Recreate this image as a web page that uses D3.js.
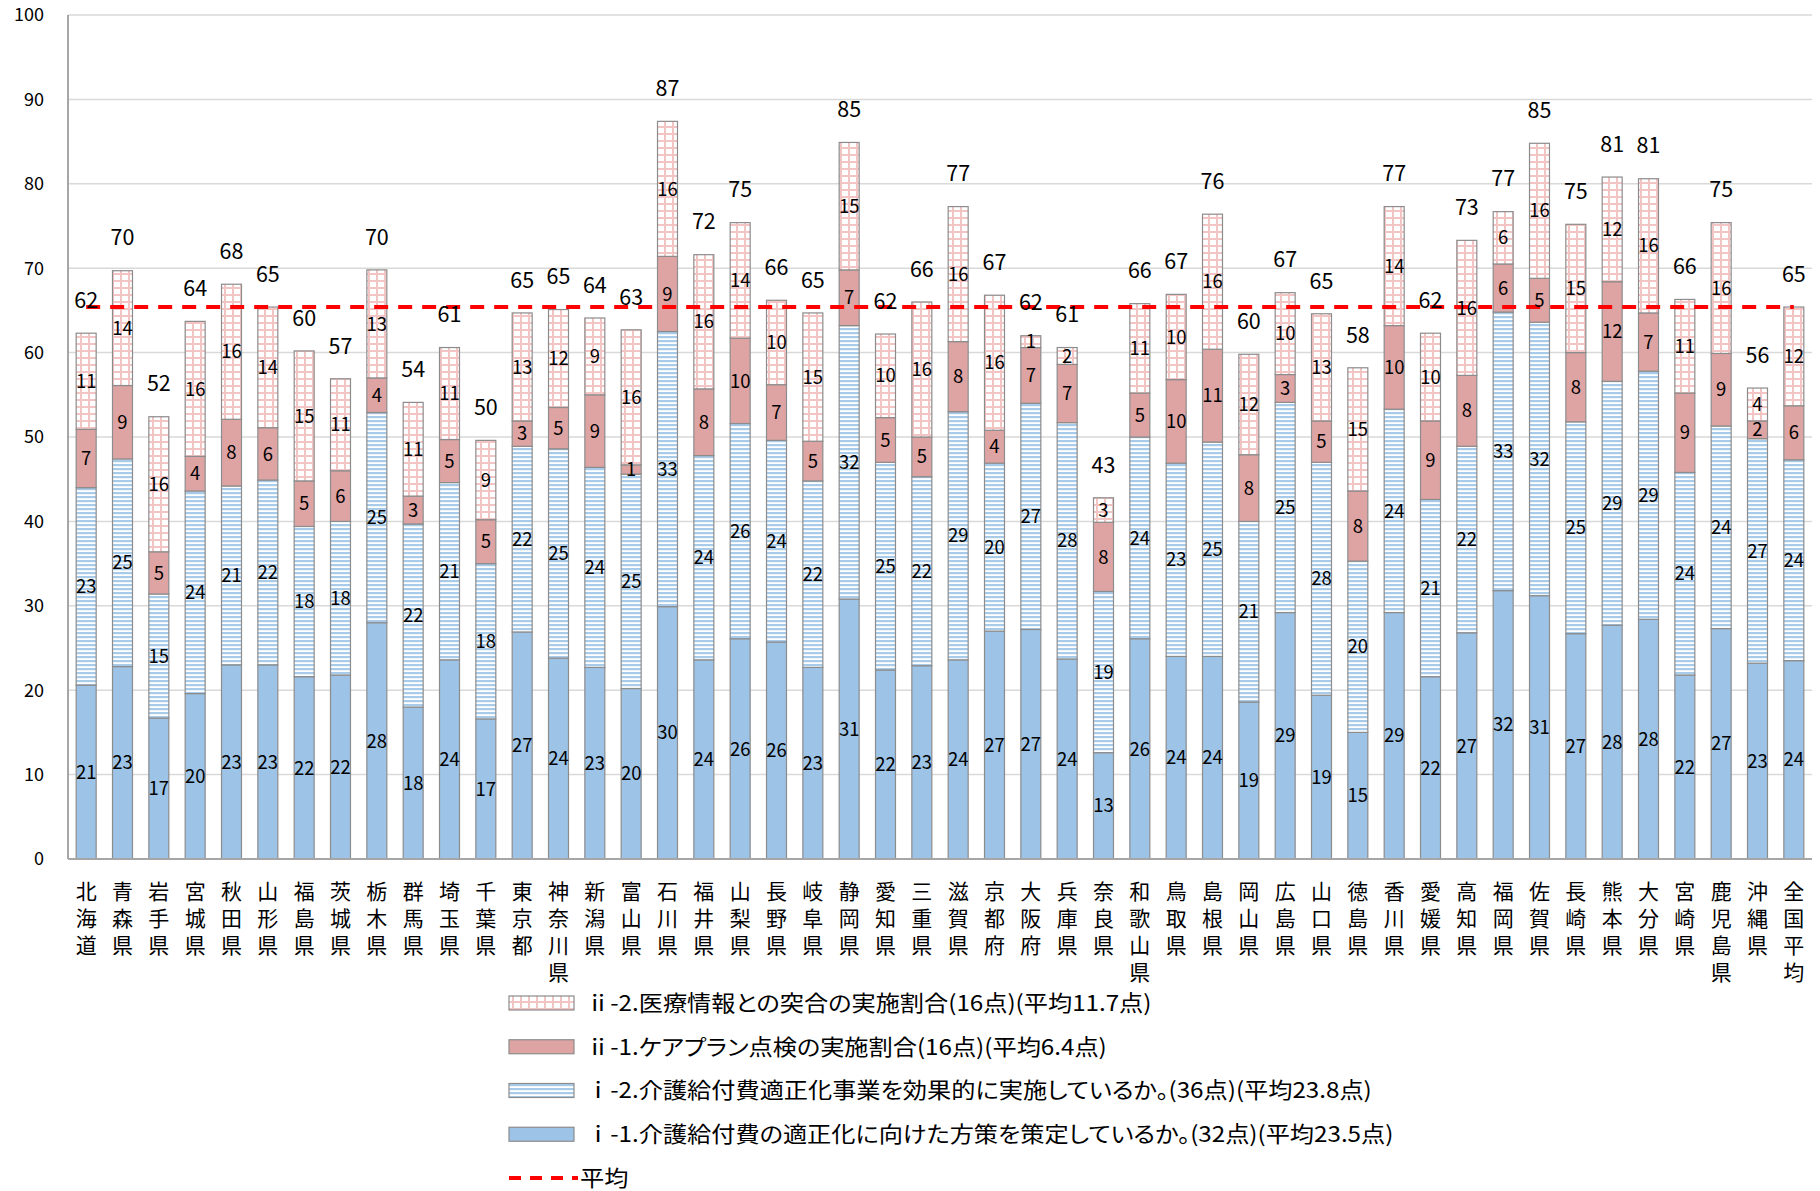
<!DOCTYPE html>
<html>
<head>
<meta charset="utf-8">
<script src="https://cdn.jsdelivr.net/npm/d3@7"></script>
<style>
  body { margin: 0; background: #fff; }
  text { font-family: "Noto Sans CJK JP", "Noto Sans", sans-serif; fill: #000; }
  .legend text { font-feature-settings: "palt"; }
</style>
</head>
<body>
<div class="chart"></div>
<script>
// 都道府県
const prefs = ["北海道","青森県","岩手県","宮城県","秋田県","山形県","福島県","茨城県","栃木県","群馬県","埼玉県","千葉県","東京都","神奈川県","新潟県","富山県","石川県","福井県","山梨県","長野県","岐阜県","静岡県","愛知県","三重県","滋賀県","京都府","大阪府","兵庫県","奈良県","和歌山県","鳥取県","島根県","岡山県","広島県","山口県","徳島県","香川県","愛媛県","高知県","福岡県","佐賀県","長崎県","熊本県","大分県","宮崎県","鹿児島県","沖縄県","全国平均"];

// ⅰ-1 介護給付費の適正化に向けた方策
const i1 = [20.6,22.8,16.7,19.6,23.0,23.0,21.6,21.8,28.0,18.0,23.6,16.6,26.9,23.8,22.7,20.2,29.9,23.6,26.1,25.7,22.7,30.8,22.4,22.9,23.6,27.0,27.2,23.7,12.6,26.1,24.0,24.0,18.6,29.2,19.4,15.0,29.2,21.6,26.8,31.8,31.2,26.7,27.7,28.4,21.8,27.3,23.2,23.5];
// ⅰ-2 適正化事業を効果的に実施
const i2 = [23.4,24.6,14.7,24.0,21.2,21.9,17.8,18.2,24.9,21.7,21.0,18.4,22.0,24.8,23.7,25.4,32.6,24.2,25.5,23.9,22.1,32.4,24.6,22.4,29.4,19.9,26.8,28.0,19.1,23.9,22.9,25.4,21.4,24.9,27.6,20.3,24.1,21.0,22.1,33.0,32.4,25.1,28.9,29.4,24.0,24.0,26.6,23.8];
// ⅱ-1 ケアプラン点検
const ii1 = [6.9,8.7,5.0,4.1,7.9,6.2,5.4,6.0,4.1,3.3,5.1,5.2,3.0,4.9,8.6,1.1,8.9,7.9,10.1,6.6,4.7,6.6,5.3,4.7,8.3,3.9,6.6,6.9,8.2,5.2,9.9,11.0,7.9,3.3,4.9,8.3,9.9,9.3,8.4,5.7,5.2,8.2,11.8,6.9,9.4,8.6,2.1,6.4];
// ⅱ-2 医療情報との突合
const ii2 = [11.4,13.6,16.0,16.0,16.0,14.3,15.4,10.9,12.8,11.1,10.9,9.4,12.8,11.6,9.1,16.0,16.0,15.9,13.7,10.0,15.2,15.1,9.9,16.0,16.0,16.0,1.4,2.0,2.9,10.6,10.1,16.0,11.9,9.7,12.7,14.6,14.1,10.4,16.0,6.2,16.0,15.2,12.4,15.9,11.1,15.5,3.9,11.7];

const average = 65.4;
const yTicks = [0,10,20,30,40,50,60,70,80,90,100];

const seriesKeys = ["i1","i2","ii1","ii2"];
const seriesNames = {
  ii2: "ⅱ-2.医療情報との突合の実施割合(16点)(平均11.7点)",
  ii1: "ⅱ-1.ケアプラン点検の実施割合(16点)(平均6.4点)",
  i2: "ⅰ-2.介護給付費適正化事業を効果的に実施しているか。(36点)(平均23.8点)",
  i1: "ⅰ-1.介護給付費の適正化に向けた方策を策定しているか。(32点)(平均23.5点)"
};

let width = 1820,
    height = 1191;

const rows = prefs.map((p, i) => ({pref: p, i1: i1[i], i2: i2[i], ii1: ii1[i], ii2: ii2[i]}));
const stacked = d3.stack().keys(seriesKeys)(rows);

const svg = d3.select(".chart").append("svg")
  .attr("width", width).attr("height", height);

// patterns
const defs = svg.append("defs");
const stripe = defs.append("pattern").attr("id", "stripe")
  .attr("patternUnits", "userSpaceOnUse").attr("width", 8).attr("height", 4);
stripe.append("rect").attr("width", 8).attr("height", 4).attr("fill", "#fff");
stripe.append("rect").attr("width", 8).attr("height", 2.2).attr("fill", "#a9cbea");

const grid = defs.append("pattern").attr("id", "grid")
  .attr("patternUnits", "userSpaceOnUse").attr("width", 8).attr("height", 7);
grid.append("rect").attr("width", 8).attr("height", 7).attr("fill", "#fff");
grid.append("rect").attr("width", 2).attr("height", 7).attr("fill", "#f2c4c4");
grid.append("rect").attr("width", 8).attr("height", 2).attr("fill", "#f2c4c4");

const fills = {i1: "#9dc3e6", i2: "url(#stripe)", ii1: "#dea4a4", ii2: "url(#grid)"};

const x = d3.scaleBand().domain(prefs).range([68, 1812]).paddingInner(0.45).paddingOuter(0.225);
const y = d3.scaleLinear().domain([0, 100]).range([859, 15]);

// gridlines
svg.append("g").selectAll("line")
  .data(yTicks.filter(d => d > 0))
  .join("line")
  .attr("x1", 68).attr("x2", 1812)
  .attr("y1", d => y(d)).attr("y2", d => y(d))
  .attr("stroke", "#d9d9d9").attr("stroke-width", 1.5);

// tick labels
svg.append("g").selectAll("text")
  .data(yTicks)
  .join("text")
  .attr("x", 44).attr("y", d => y(d))
  .attr("dy", "0.35em")
  .attr("text-anchor", "end")
  .attr("font-size", 18)
  .text(d => d);

// bars
svg.append("g").selectAll("g")
  .data(stacked)
  .join("g")
  .attr("fill", s => fills[s.key])
  .selectAll("rect")
  .data(s => s)
  .join("rect")
  .attr("x", d => x(d.data.pref))
  .attr("width", x.bandwidth())
  .attr("y", d => y(d[1]))
  .attr("height", d => y(d[0]) - y(d[1]))
  .attr("stroke", "#8c8c8c")
  .attr("stroke-width", 1.2);

// axes lines
svg.append("line").attr("x1", 68).attr("x2", 68).attr("y1", 15).attr("y2", 859)
  .attr("stroke", "#a6a6a6").attr("stroke-width", 2);
svg.append("line").attr("x1", 68).attr("x2", 1812).attr("y1", 859).attr("y2", 859)
  .attr("stroke", "#a6a6a6").attr("stroke-width", 2);

// average line
svg.append("line")
  .attr("x1", x(prefs[0]) + x.bandwidth() / 2)
  .attr("x2", x(prefs[prefs.length - 1]) + x.bandwidth() / 2)
  .attr("y1", y(average)).attr("y2", y(average))
  .attr("stroke", "#ff0000").attr("stroke-width", 4)
  .attr("stroke-dasharray", "14,10");

// segment labels
svg.append("g").selectAll("g")
  .data(stacked)
  .join("g")
  .selectAll("text")
  .data(s => s)
  .join("text")
  .attr("x", d => x(d.data.pref) + x.bandwidth() / 2)
  .attr("y", d => (y(d[0]) + y(d[1])) / 2)
  .attr("dy", "0.36em")
  .attr("text-anchor", "middle")
  .attr("font-size", 18.5)
  .text(d => Math.round(d[1] - d[0]));

// total labels
const last = stacked[stacked.length - 1];
svg.append("g").selectAll("text")
  .data(last)
  .join("text")
  .attr("x", d => x(d.data.pref) + x.bandwidth() / 2)
  .attr("y", d => y(d[1]) - 33)
  .attr("dy", "0.36em")
  .attr("text-anchor", "middle")
  .attr("font-size", 21.5)
  .text(d => Math.round(d[1]));

// category labels (vertical, one char per line)
const cat = svg.append("g").selectAll("text")
  .data(prefs)
  .join("text")
  .attr("text-anchor", "middle")
  .attr("font-size", 21);
cat.selectAll("tspan")
  .data(d => Array.from(d).map(c => ({c: c, p: d})))
  .join("tspan")
  .attr("x", d => x(d.p) + x.bandwidth() / 2)
  .attr("y", (d, i) => 899 + i * 27)
  .text(d => d.c);

// legend
const legendKeys = ["ii2","ii1","i2","i1"];
const legendY = d3.scalePoint().domain([...legendKeys, "avg"]).range([1003, 1178]);
const legend = svg.append("g").attr("class", "legend");
legend.selectAll("rect")
  .data(legendKeys)
  .join("rect")
  .attr("x", 509).attr("width", 65)
  .attr("y", d => legendY(d) - 7).attr("height", 14)
  .attr("fill", d => fills[d])
  .attr("stroke", "#8c8c8c").attr("stroke-width", 1.2);
legend.selectAll("text.item")
  .data(legendKeys)
  .join("text")
  .attr("class", "item")
  .attr("transform", d => `translate(586,${legendY(d)}) scale(1.1,1)`)
  .attr("dy", "0.36em")
  .attr("font-size", 22)
  .text(d => seriesNames[d]);
legend.append("line")
  .attr("x1", 509).attr("x2", 578)
  .attr("y1", legendY("avg")).attr("y2", legendY("avg"))
  .attr("stroke", "#ff0000").attr("stroke-width", 4)
  .attr("stroke-dasharray", "12,9");
legend.append("text")
  .attr("transform", `translate(580,${legendY("avg")}) scale(1.1,1)`)
  .attr("dy", "0.36em")
  .attr("font-size", 22)
  .text("平均");
</script>
</body>
</html>
